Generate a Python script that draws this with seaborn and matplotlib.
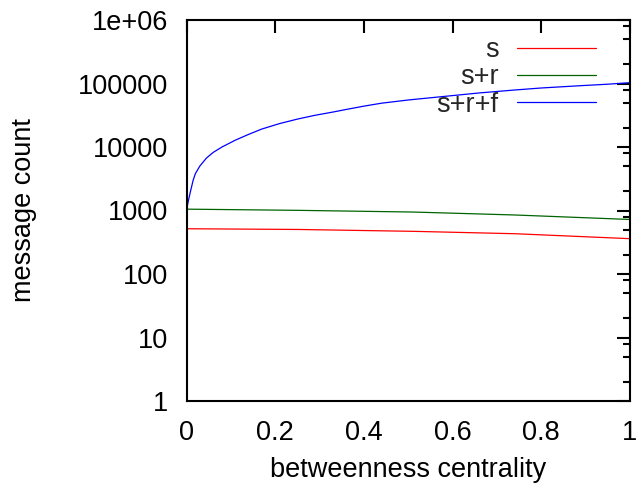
import numpy as np
import pandas as pd
import matplotlib
matplotlib.use("Agg")
import matplotlib.pyplot as plt
from matplotlib.ticker import FixedLocator, FixedFormatter
import seaborn as sns

# ---- data ----
x_s = [0.0, 0.25, 0.51, 0.74, 1.0]
y_s = [516, 503, 470, 431, 360]

x_sr = [0.0, 0.25, 0.51, 0.74, 1.0]
y_sr = [1050, 1006, 946, 850, 722]

x_srf = [0.0, 0.004, 0.008, 0.015, 0.02, 0.03, 0.045, 0.06, 0.08, 0.11,
         0.14, 0.17, 0.21, 0.25, 0.29, 0.33, 0.36, 0.40, 0.44, 0.50,
         0.59, 0.66, 0.74, 0.80, 0.89, 0.95, 1.0]
y_srf = [1000, 1400, 1870, 3000, 3800, 5000, 6700, 8200, 10000, 12800,
         15800, 19200, 23400, 27500, 31600, 35500, 39000, 44000, 49000, 55000,
         63500, 71000, 79000, 85000, 92500, 97500, 103000]

series_names = ["s", "s+r", "s+r+f"]
series_colors = ["#ff0000", "#006400", "#0000ff"]

x_ticks = [0, 0.2, 0.4, 0.6, 0.8, 1]
x_tick_labels = ["0", "0.2", "0.4", "0.6", "0.8", "1"]
y_ticks = [1, 10, 100, 1000, 10000, 100000, 1000000]
y_tick_labels = ["1", "10", "100", "1000", "10000", "100000", "1e+06"]

df = pd.concat([
    pd.DataFrame({"x": x_s, "y": y_s, "series": series_names[0]}),
    pd.DataFrame({"x": x_sr, "y": y_sr, "series": series_names[1]}),
    pd.DataFrame({"x": x_srf, "y": y_srf, "series": series_names[2]}),
], ignore_index=True)

sns.set_theme(style="white")
plt.rcParams["font.family"] = ["Liberation Sans", "DejaVu Sans"]

FS = 19.5
fig = plt.figure(figsize=(6.38, 4.87), dpi=100)
ax = fig.add_axes([186.5 / 638, 1 - 401 / 487, (630 - 186.5) / 638, (401 - 20) / 487])

sns.lineplot(data=df, x="x", y="y", hue="series", hue_order=series_names,
             palette=dict(zip(series_names, series_colors)), sort=False,
             estimator=None, linewidth=0.9, ax=ax)

ax.set_yscale("log")
ax.set_xlim(0, 1)
ax.set_ylim(1, 1e6)

ax.xaxis.set_major_locator(FixedLocator(x_ticks))
ax.xaxis.set_major_formatter(FixedFormatter(x_tick_labels))
ax.yaxis.set_major_locator(FixedLocator(y_ticks))
ax.yaxis.set_major_formatter(FixedFormatter(y_tick_labels))
minor = [m * 10 ** e for e in range(0, 6) for m in (2, 5, 8)]
ax.yaxis.set_minor_locator(FixedLocator(minor))
ax.yaxis.set_minor_formatter(FixedFormatter([""] * len(minor)))
ax.xaxis.set_minor_locator(FixedLocator([]))

for sp in ax.spines.values():
    sp.set_visible(True)
    sp.set_color("black")
    sp.set_linewidth(1.5)

ax.tick_params(axis="both", which="both", direction="in", colors="black",
               top=True, right=True, labelsize=FS)
ax.tick_params(axis="both", which="major", length=9.5, width=1.5)
ax.tick_params(axis="both", which="minor", length=4.7, width=1.5)
ax.tick_params(axis="x", which="major", pad=13.5)
ax.tick_params(axis="y", which="major", pad=13)

ax.set_xlabel("betweenness centrality", fontsize=FS, color="black")
ax.set_ylabel("message count", fontsize=FS, color="black")
ax.xaxis.set_label_coords(0.5, -0.148)
ax.yaxis.set_label_coords(-0.336, 0.5)

leg = ax.legend(loc="upper right", bbox_to_anchor=(0.923, 0.955),
                frameon=False, markerfirst=False, fontsize=FS,
                handlelength=2.9, handletextpad=0.7, labelspacing=0.05,
                borderpad=0, borderaxespad=0)
for line in leg.get_lines():
    line.set_linewidth(0.9)

fig.savefig("out.png", dpi=100, facecolor="white")
